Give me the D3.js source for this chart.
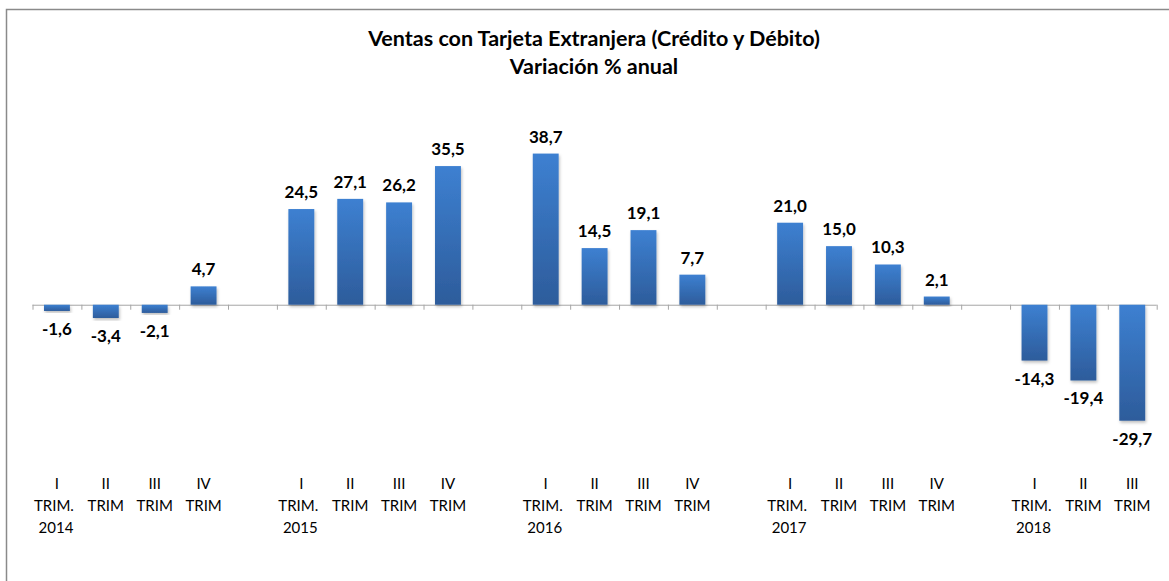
<!DOCTYPE html>
<html>

<head>
  <meta charset="utf-8">
  <title>Ventas con Tarjeta Extranjera</title>
  <style>
    body { margin: 0; background: #fff; }
    text { font-family: Lato, "Open Sans", sans-serif; fill: #000; }
  </style>
</head>

<body>
  <svg width="1169" height="581"></svg>
  <script src="https://d3js.org/d3.v7.min.js"></script>
  <script>
    // datos (null = hueco entre años)
    var numerales = ["I", "II", "III", "IV", null, "I", "II", "III", "IV", null, "I", "II", "III", "IV", null,
      "I", "II", "III", "IV", null, "I", "II", "III"];
    var anios = ["2014", "", "", "", null, "2015", "", "", "", null, "2016", "", "", "", null,
      "2017", "", "", "", null, "2018", "", ""];
    var valores = [-1.6, -3.4, -2.1, 4.7, null, 24.5, 27.1, 26.2, 35.5, null, 38.7, 14.5, 19.1, 7.7, null,
      21.0, 15.0, 10.3, 2.1, null, -14.3, -19.4, -29.7];
    var titulo = ["Ventas con Tarjeta Extranjera (Crédito y Débito)", "Variación % anual"];

    var datos = valores.map(function (v, i) {
      return { id: i, valor: v, num: numerales[i], anio: anios[i] };
    });

    var svg = d3.select("svg");

    // marco del gráfico
    svg.append("path")
      .attr("d", "M6.5,581V9.5H1169")
      .attr("fill", "none")
      .attr("stroke", "#8a8a8a")
      .attr("stroke-width", 1.5);

    // gradiente y sombra de barras
    var defs = svg.append("defs");
    var grad = defs.append("linearGradient")
      .attr("id", "azul")
      .attr("x1", 0).attr("y1", 0).attr("x2", 0).attr("y2", 1);
    grad.append("stop").attr("offset", "0%").attr("stop-color", "#3d80d1");
    grad.append("stop").attr("offset", "100%").attr("stop-color", "#2d5c9b");

    var filtro = defs.append("filter").attr("id", "sombra")
      .attr("x", "-20%").attr("y", "-20%").attr("width", "140%").attr("height", "140%");
    filtro.append("feDropShadow")
      .attr("dx", 1).attr("dy", 2).attr("stdDeviation", 1.5)
      .attr("flood-color", "#000").attr("flood-opacity", 0.25);

    // escalas
    var x = d3.scaleBand()
      .domain(datos.map(function (d) { return d.id; }))
      .range([32.5, 1156.7])
      .padding(0);

    var y = d3.scaleLinear()
      .domain([-30, 40])
      .range([421.9, 148.5]);

    var anchoBarra = x.bandwidth() * 0.53;

    // eje horizontal con marcas en los límites de cada categoría
    var eje = d3.axisBottom(d3.scaleLinear().domain([0, datos.length]).range(x.range()))
      .tickValues(d3.range(datos.length + 1))
      .tickSize(5)
      .tickFormat("");

    svg.append("g")
      .attr("transform", "translate(0," + y(0) + ")")
      .call(eje)
      .call(function (g) {
        g.selectAll("path, line").attr("stroke", "#a6a6a6").attr("stroke-width", 1);
      })
      .call(function (g) { g.select(".domain").attr("d", "M" + x.range()[0] + ",0.5H" + x.range()[1]); });

    var barrasData = datos.filter(function (d) { return d.valor !== null; });

    // barras
    svg.append("g")
      .selectAll("rect")
      .data(barrasData)
      .enter()
      .append("rect")
      .attr("x", function (d) { return x(d.id) + (x.bandwidth() - anchoBarra) / 2; })
      .attr("y", function (d) { return y(Math.max(0, d.valor)); })
      .attr("width", anchoBarra)
      .attr("height", function (d) { return Math.abs(y(d.valor) - y(0)); })
      .attr("fill", "url(#azul)")
      .attr("filter", "url(#sombra)");

    // etiquetas de valor
    svg.append("g")
      .selectAll("text")
      .data(barrasData)
      .enter()
      .append("text")
      .attr("x", function (d) { return x(d.id) + x.bandwidth() / 2; })
      .attr("y", function (d) { return d.valor >= 0 ? y(d.valor) - 11 : y(d.valor) + 24; })
      .attr("text-anchor", "middle")
      .attr("font-size", "17px")
      .attr("font-weight", "bold")
      .text(function (d) { return d3.format(".1f")(d.valor).replace(".", ",").replace("−", "-"); });

    // etiquetas de categoría
    var cats = svg.append("g")
      .selectAll("text")
      .data(barrasData)
      .enter()
      .append("text")
      .attr("text-anchor", "middle")
      .attr("font-size", "15px");

    cats.append("tspan")
      .attr("x", function (d) { return x(d.id) + x.bandwidth() / 2; })
      .attr("y", 489)
      .text(function (d) { return d.num; });
    cats.append("tspan")
      .attr("x", function (d) { return x(d.id) + x.bandwidth() / 2 - (d.anio ? 3 : 0); })
      .attr("y", 511)
      .text(function (d) { return d.anio ? "TRIM." : "TRIM"; });
    cats.append("tspan")
      .attr("x", function (d) { return x(d.id) + x.bandwidth() / 2 - 1; })
      .attr("y", 533)
      .text(function (d) { return d.anio; });

    // título
    svg.append("g")
      .selectAll("text")
      .data(titulo)
      .enter()
      .append("text")
      .attr("x", 594)
      .attr("y", function (d, i) { return 46 + i * 28; })
      .attr("text-anchor", "middle")
      .attr("font-size", "21.5px")
      .attr("font-weight", "bold")
      .text(function (d) { return d; });
  </script>
</body>

</html>
